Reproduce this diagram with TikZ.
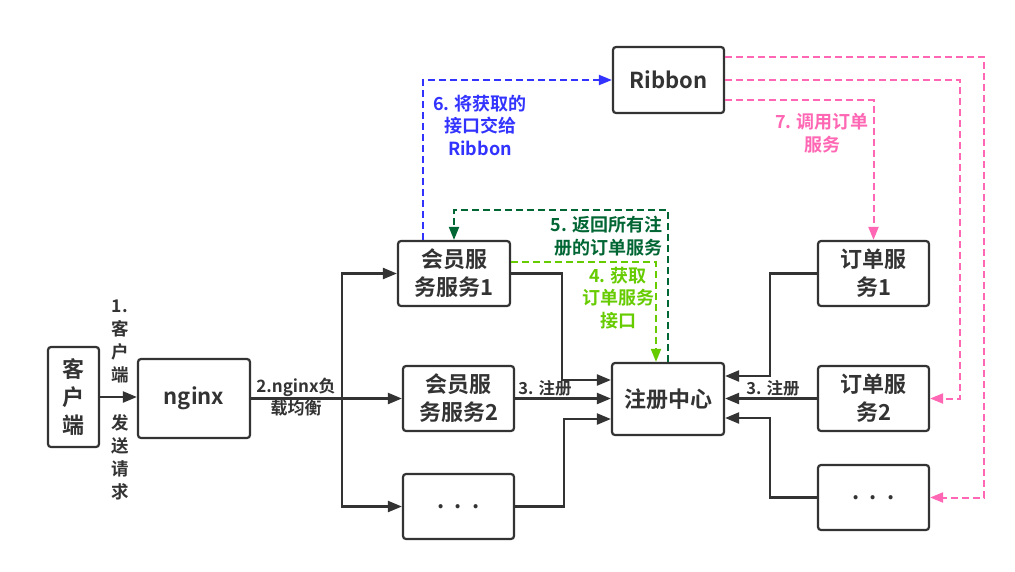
\documentclass[tikz,border=0pt]{standalone}
\usepackage{fontspec}
\setmainfont{Noto Sans CJK SC}[BoldFont={Noto Sans CJK SC Bold}]
\usetikzlibrary{arrows.meta}
\definecolor{dk}{RGB}{51,51,51}
\definecolor{bl}{RGB}{51,51,255}
\definecolor{dg}{RGB}{0,102,51}
\definecolor{lg}{RGB}{102,204,0}
\definecolor{pk}{RGB}{255,102,179}
\tikzset{
  box/.style={draw=dk,line width=2.2pt,rounded corners=3pt,align=center,text=dk,
    font=\fontsize{22pt}{28pt}\selectfont\bfseries,inner sep=0pt},
  conn/.style={draw=dk,line width=2.2pt,-{Triangle[length=14pt,width=11pt]}},
  dconn/.style={line width=2pt,dash pattern=on 7pt off 4pt,-{Triangle[length=13pt,width=10pt]}},
  lbl/.style={font=\fontsize{18pt}{22.5pt}\selectfont\bfseries,align=center,inner sep=0pt},
  vlbl/.style={font=\fontsize{17.5pt}{23pt}\selectfont\bfseries,align=center,inner sep=0pt,text=dk},
  reglbl/.style={font=\fontsize{16.5pt}{18pt}\selectfont\bfseries,inner sep=0pt,text=dk},
}
\begin{document}
\begin{tikzpicture}[x=1pt,y=-1pt]
\fill[white] (0,0) rectangle (1015,571);
\useasboundingbox (0,0) rectangle (1015,571);
% boxes
\node[box,minimum width=51pt,minimum height=100pt] (kh) at (73.5,397) {客\\户\\端};
\node[box,minimum width=112pt,minimum height=79pt] (ng) at (194,398.5) {nginx};
\node[box,minimum width=112pt,minimum height=65pt] (s1) at (454,273.5) {会员服\\务服务1};
\node[box,minimum width=111pt,minimum height=65pt] (s2) at (458.5,398.5) {会员服\\务服务2};
\node[box,minimum width=111pt,minimum height=65pt] (s3) at (458.5,506.5) {.\ \ .\ \ .};
\node[box,minimum width=112pt,minimum height=72pt] (reg) at (668,399) {注册中心};
\node[box,minimum width=111pt,minimum height=66pt] (rb) at (668.5,80) {Ribbon};
\node[box,minimum width=111pt,minimum height=65pt] (o1) at (873.5,273.5) {订单服\\务1};
\node[box,minimum width=111pt,minimum height=65pt] (o2) at (873.5,398.5) {订单服\\务2};
\node[box,minimum width=111pt,minimum height=65pt] (o3) at (873.5,497.5) {.\ \ .\ \ .};
\coordinate (split) at (342,398.5);
% black connectors
\draw[conn] (kh.east) -- (ng.west |- kh.east);
\draw[draw=dk,line width=2.2pt] (ng.east |- split) -- (split);
\draw[conn] (split) |- (s1.west);
\draw[conn] (split) -- (s2.west);
\draw[conn] (split) |- (s3.west);
\draw[conn] (s1.east) -- ++(51,0) |- ([yshift=19pt]reg.west);
\draw[conn] (s2.east) -- (s2.east -| reg.west);
\draw[conn] (s3.east) -- ++(49,0) |- ([yshift=-20pt]reg.west);
\draw[conn] (o1.west) -- ++(-47,0) |- ([yshift=23pt]reg.east);
\draw[conn] (o2.west) -- (o2.west -| reg.east);
\draw[conn] (o3.west) -- ++(-47,0) |- ([yshift=-19pt]reg.east);
% dashed connectors
\draw[dconn,bl] ([xshift=-31pt]s1.north) |- (rb.west);
\draw[dconn,dg] (reg.north) -- ++(0,-152) -| (s1.north);
\draw[dconn,lg] ([yshift=11.5pt]s1.east) -| ([xshift=-12pt]reg.north);
\draw[dconn,pk] ([yshift=23pt]rb.east) -| ([xshift=54pt]o3.east) -- (o3.east);
\draw[dconn,pk] (rb.east) -| ([xshift=30pt]o2.east) -- (o2.east);
\draw[dconn,pk] ([yshift=-20pt]rb.east) -| (o1.north);
% labels
\node[vlbl] (l1a) at (120,341) {1.\\客\\户\\端};
\node[vlbl] (l1b) at (120,457) {发\\送\\请\\求};
\node[lbl,text=dk,font=\fontsize{17pt}{22pt}\selectfont\bfseries] (l2) at (296,397) {2.nginx负\\载均衡};
\node[reglbl] (l3a) at (545,388) {3. 注册};
\node[reglbl] (l3b) at (773,388) {3. 注册};
\node[lbl,text=bl] (l6) at (480,125) {6. 将获取的\\接口交给\\Ribbon};
\node[lbl,text=dg,anchor=east,align=right] (l5) at (663,236) {5. 返回所有注\\册的订单服务};
\node[lbl,text=lg] (l4) at (618,298) {4. 获取\\订单服务\\接口};
\node[lbl,text=pk] (l7) at (822,133) {7. 调用订单\\服务};
\end{tikzpicture}
\end{document}
